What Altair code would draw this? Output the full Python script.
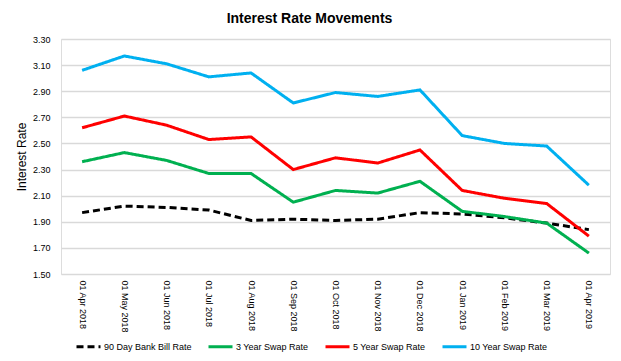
import altair as alt
import pandas as pd

dates = ["01 Apr 2018", "01 May 2018", "01 Jun 2018", "01 Jul 2018", "01 Aug 2018",
         "01 Sep 2018", "01 Oct 2018", "01 Nov 2018", "01 Dec 2018", "01 Jan 2019",
         "01 Feb 2019", "01 Mar 2019", "01 Apr 2019"]
series_names = ["90 Day Bank Bill Rate", "3 Year Swap Rate", "5 Year Swap Rate", "10 Year Swap Rate"]
bill_90 = [1.97, 2.02, 2.01, 1.99, 1.91, 1.92, 1.91, 1.92, 1.97, 1.96, 1.93, 1.89, 1.84]
swap_3 = [2.36, 2.43, 2.37, 2.27, 2.27, 2.05, 2.14, 2.12, 2.21, 1.98, 1.94, 1.89, 1.66]
swap_5 = [2.62, 2.71, 2.64, 2.53, 2.55, 2.30, 2.39, 2.35, 2.45, 2.14, 2.08, 2.04, 1.79]
swap_10 = [3.06, 3.17, 3.11, 3.01, 3.04, 2.81, 2.89, 2.86, 2.91, 2.56, 2.50, 2.48, 2.18]
y_ticks = [1.5, 1.7, 1.9, 2.1, 2.3, 2.5, 2.7, 2.9, 3.1, 3.3]
title_text = "Interest Rate Movements"

colors = ["#000000", "#00B050", "#FF0000", "#00B0F0"]
dashes = [[7, 4], [1, 0], [1, 0], [1, 0]]

rows = []
for name, vals in zip(series_names, [bill_90, swap_3, swap_5, swap_10]):
    for i, (d, v) in enumerate(zip(dates, vals)):
        rows.append({"idx": i, "date": d, "series": name, "value": v})
df = pd.DataFrame(rows)

label_array = "[" + ",".join("'" + d + "'" for d in dates) + "]"

FONT = "Liberation Sans"

legend_kw = dict(title=None, orient="none", legendX=14, legendY=294,
                 direction="horizontal", columns=4, symbolType="stroke",
                 symbolSize=576, symbolStrokeWidth=3, labelFontSize=9,
                 labelOffset=2, columnPadding=10, labelColor="#000000",
                 labelFont=FONT)

chart = alt.Chart(df).mark_line(strokeWidth=3).encode(
    x=alt.X("idx:Q", title=None,
            scale=alt.Scale(domain=[-0.5, len(dates) - 0.5], nice=False, zero=False),
            axis=alt.Axis(values=list(range(len(dates))),
                          labelExpr=label_array + "[datum.value]",
                          labelAngle=90, labelFontSize=9, labelColor="#000000",
                          labelPadding=6, ticks=False, domain=False, grid=False,
                          labelFont=FONT, labelAlign="left", labelBaseline="middle")),
    y=alt.Y("value:Q", title="Interest Rate",
            scale=alt.Scale(domain=[1.5, 3.3], nice=False, zero=False),
            axis=alt.Axis(values=y_ticks, format=".2f", labelFontSize=9,
                          labelColor="#000000", labelPadding=11, ticks=False,
                          domain=False, gridColor="#d9d9d9", gridWidth=1.5,
                          titleFontSize=12, titleFontWeight="normal",
                          titleColor="#000000", titlePadding=4, labelFont=FONT,
                          titleFont=FONT)),
    color=alt.Color("series:N", sort=series_names,
                    scale=alt.Scale(domain=series_names, range=colors),
                    legend=alt.Legend(**legend_kw)),
    strokeDash=alt.StrokeDash("series:N", sort=series_names,
                              scale=alt.Scale(domain=series_names, range=dashes),
                              legend=alt.Legend(**legend_kw)),
).properties(
    width=549, height=235,
    autosize=alt.AutoSizeParams(type="none"),
    padding={"left": 53, "top": 31, "right": 3, "bottom": 79},
    title=alt.TitleParams(title_text, fontSize=14, fontWeight="bold",
                          font=FONT, color="#000000", anchor="middle", dx=-26,
                          offset=9, frame="group"),
).configure_view(strokeWidth=0).configure(background="white")

chart.save("out.html", embed_options={"renderer": "svg", "actions": False})
